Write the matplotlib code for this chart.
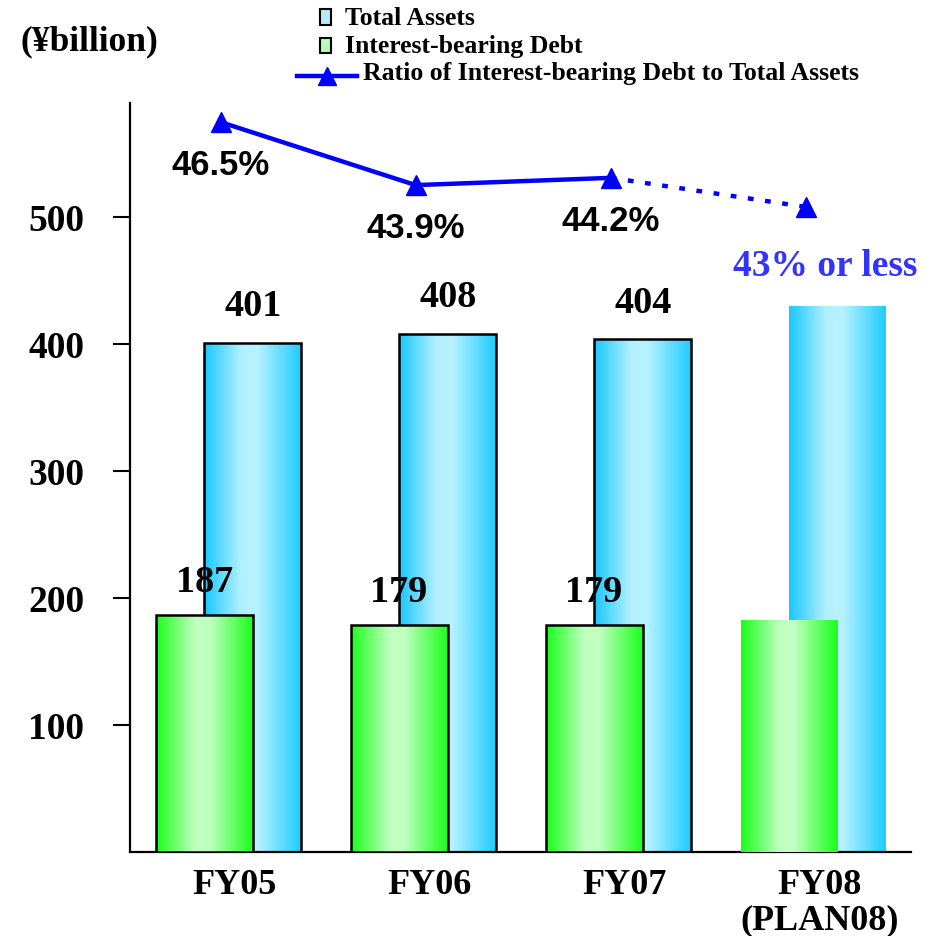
import numpy as np
import matplotlib
matplotlib.use("Agg")
import matplotlib.pyplot as plt
from matplotlib.patches import Rectangle
from matplotlib.lines import Line2D
from matplotlib.colors import LinearSegmentedColormap

# ---- data (¥ billion / %) ----
categories = ["FY05", "FY06", "FY07", "FY08\n(PLAN08)"]
total_assets = [401, 408, 404, 430]
interest_debt = [187, 179, 179, 183]
debt_ratio = [46.5, 43.9, 44.2, 43.0]
ratio_labels = ["46.5%", "43.9%", "44.2%", "43% or less"]
asset_labels = ["401", "408", "404", ""]
debt_labels = ["187", "179", "179", ""]
plan_flags = [False, False, False, True]

plt.rcParams["font.family"] = ["Liberation Serif", "DejaVu Serif"]
plt.rcParams["font.weight"] = "bold"

W, H = 930, 936
fig = plt.figure(figsize=(W / 100, H / 100), dpi=100)
fig.patch.set_facecolor("white")

def fx(px):
    return px / W

def fy(py):
    return 1 - py / H

ax = fig.add_axes([fx(130), fy(852), fx(911) - fx(130), fy(103) - fy(852)])
ax.set_xlim(-0.505, 3.5)
ax.set_ylim(0, 589.8)

blue_stops = [(0.0, (0.10, 0.78, 1.0)), (0.38, (0.70, 0.94, 1.0)),
              (0.55, (0.72, 0.95, 1.0)), (1.0, (0.12, 0.80, 1.0))]
green_stops = [(0.0, (0.10, 1.0, 0.10)), (0.40, (0.76, 1.0, 0.76)),
               (0.55, (0.76, 1.0, 0.76)), (1.0, (0.10, 1.0, 0.10))]
blue_cmap = LinearSegmentedColormap.from_list("assets", blue_stops)
green_cmap = LinearSegmentedColormap.from_list("debt", green_stops)
grad = np.linspace(0, 1, 256).reshape(1, -1)

x = np.arange(len(categories))
bw = 0.497
off = 0.125


def gradient_bars(xpos, heights, cmap, z):
    edges = ["none" if p else "black" for p in plan_flags]
    bars = ax.bar(xpos, heights, bw, facecolor="none", edgecolor=edges,
                  linewidth=1.8, zorder=z + 1)
    for b in bars:
        x0, y0 = b.get_x(), b.get_y()
        img = ax.imshow(grad, cmap=cmap, aspect="auto", interpolation="bicubic",
                        extent=(x0, x0 + b.get_width(), y0, y0 + b.get_height()),
                        zorder=z)
        img.set_clip_path(b)
    return bars


assets_bars = gradient_bars(x + off, total_assets, blue_cmap, 2)
debt_bars = gradient_bars(x - off, interest_debt, green_cmap, 4)
ax.set_xlim(-0.505, 3.5)
ax.set_ylim(0, 589.8)

for b, lab in zip(assets_bars, asset_labels):
    if lab:
        ax.annotate(lab, (b.get_x() + b.get_width() / 2, b.get_height()),
                    xytext=(0, 19), textcoords="offset points",
                    ha="center", va="baseline", fontsize=27.5,
                    fontweight="bold", zorder=8)
for b, lab in zip(debt_bars, debt_labels):
    if lab:
        ax.annotate(lab, (b.get_x() + b.get_width() / 2, b.get_height()),
                    xytext=(0, 16), textcoords="offset points",
                    ha="center", va="baseline", fontsize=27.5,
                    fontweight="bold", zorder=8)

# axes styling
for s in ["top", "right"]:
    ax.spines[s].set_visible(False)
ax.spines["left"].set_linewidth(1.6)
ax.spines["bottom"].set_linewidth(1.6)
ax.spines["left"].set_zorder(10)
ax.set_yticks([100, 200, 300, 400, 500])
ax.tick_params(axis="y", direction="out", length=12, width=1.5, pad=21,
               labelsize=27)
ax.set_xticks(x + 0.03)
ax.set_xticklabels(categories, fontsize=26, fontweight="bold", linespacing=1.1)
ax.tick_params(axis="x", length=0, pad=12)
for t in ax.get_yticklabels():
    t.set_fontweight("bold")

# ratio line on a hidden secondary scale
ax2 = ax.twinx()
ax2.set_ylim(16.37, 47.29)
ax2.axis("off")
rx = x - 0.04
line_blue = "#0000ff"
ax2.plot(rx[:3], debt_ratio[:3], color=line_blue, lw=3.2, zorder=6)
ax2.plot(rx[2:], debt_ratio[2:], color=line_blue, lw=3.2,
         linestyle=(0, (1.3, 2.6)), zorder=6)
ax2.plot(rx, debt_ratio, linestyle="none", marker="^", markersize=15,
         color=line_blue, zorder=7)

for xi, r, lab, plan in zip(rx, debt_ratio, ratio_labels, plan_flags):
    if plan:
        ax2.annotate(lab, (xi, r), xytext=(14, -50), textcoords="offset points",
                     ha="center", va="baseline", fontsize=27,
                     fontweight="bold", color="#3333ff")
    else:
        ax2.annotate(lab, (xi, r), xytext=(0, -38), textcoords="offset points",
                     ha="center", va="baseline", fontsize=25,
                     fontweight="bold", family=["Liberation Sans", "DejaVu Sans"])

# unit label and legend
fig.text(fx(20), fy(50), "(¥billion)", fontsize=25.5, fontweight="bold",
         ha="left", va="baseline")

leg_fs = 18.5
fig.add_artist(Rectangle((fx(320), fy(25)), fx(331) - fx(320), fy(9) - fy(25),
                         transform=fig.transFigure, facecolor="#b3ecff",
                         edgecolor="black", linewidth=1.5))
fig.text(fx(345), fy(25), "Total Assets", fontsize=leg_fs, fontweight="bold",
         va="baseline")
fig.add_artist(Rectangle((fx(320), fy(53)), fx(331) - fx(320), fy(38) - fy(53),
                         transform=fig.transFigure, facecolor="#b3ffb3",
                         edgecolor="black", linewidth=1.5))
fig.text(fx(345), fy(53), "Interest-bearing Debt", fontsize=leg_fs,
         fontweight="bold", va="baseline")
fig.add_artist(Line2D([fx(297), fx(357)], [fy(76), fy(76)],
                      transform=fig.transFigure, color=line_blue, lw=3.2))
fig.add_artist(Line2D([fx(327)], [fy(76)], transform=fig.transFigure,
                      marker="^", markersize=13, color=line_blue))
fig.text(fx(363), fy(80), "Ratio of Interest-bearing Debt to Total Assets",
         fontsize=leg_fs, fontweight="bold", va="baseline")

fig.savefig("out.png", dpi=100, facecolor="white")
